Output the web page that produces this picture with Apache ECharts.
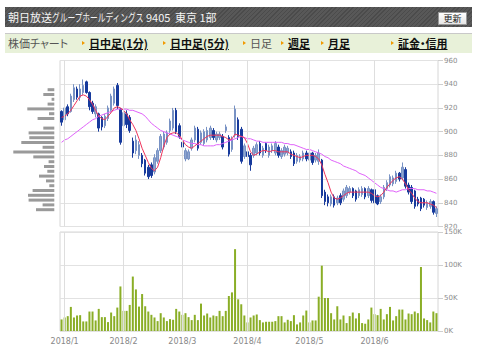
<!DOCTYPE html>
<html><head><meta charset="utf-8">
<script src="https://cdn.jsdelivr.net/npm/echarts@6/dist/echarts.min.js"></script>
<style>
body{margin:0;background:#fff;}
#wrap{position:relative;width:480px;height:364px;overflow:hidden;font-family:"Noto Sans CJK JP",sans-serif;}
#chart{position:absolute;left:0;top:0;width:480px;height:364px;}
#hdr{position:absolute;left:5px;top:7px;width:467px;height:20px;background:repeating-linear-gradient(135deg,#4b4b4b 0,#4b4b4b 1px,#585858 1px,#585858 3px);}
.h{position:absolute;top:0;line-height:20px;font-size:11px;color:#f4f4f4;white-space:nowrap;}
.sq{transform:scaleX(0.7);transform-origin:0 50%;}
#btn{position:absolute;left:433px;top:5px;width:27px;height:11px;background:linear-gradient(#ffffff,#e6e6e6);border:1px solid #999;font-size:9px;line-height:11px;text-align:center;color:#222;}
#tabs{position:absolute;left:5px;top:33px;width:467px;height:19px;background:#e8f1d9;border-top:1px solid #c9c9c9;}
.t{position:absolute;top:0;line-height:19px;font-size:11px;white-space:nowrap;font-feature-settings:"palt";}
.a{color:#111;font-weight:bold;text-decoration:underline;}
.g{color:#555;}
.b{position:absolute;top:7px;width:0;height:0;border-left:3px solid #f29a00;border-top:2.5px solid transparent;border-bottom:2.5px solid transparent;}
</style></head>
<body>
<div id="wrap">
<div id="chart"></div>
<div id="hdr">
 <span class="h" style="left:3px">朝日放送</span>
 <span class="h sq" style="left:47px">グループホールディングス</span>
 <span class="h" style="left:141px">9405</span>
 <span class="h" style="left:170px">東京 1部</span>
 <div id="btn">更新</div>
</div>
<div id="tabs">
 <span class="t g" style="left:3px">株価チャート</span>
 <span class="b" style="left:77px"></span><span class="t a" style="left:84px">日中足(1分)</span>
 <span class="b" style="left:158px"></span><span class="t a" style="left:165px">日中足(5分)</span>
 <span class="b" style="left:238px"></span><span class="t g" style="left:245px">日足</span>
 <span class="b" style="left:276px"></span><span class="t a" style="left:283px">週足</span>
 <span class="b" style="left:316px"></span><span class="t a" style="left:323px">月足</span>
 <span class="b" style="left:386px"></span><span class="t a" style="left:393px">証金・信用</span>
</div>
</div>
<script>
const dates = [
 '2017/12/29',
 '2018/1/4','2018/1/5','2018/1/9','2018/1/10','2018/1/11','2018/1/12','2018/1/15','2018/1/16','2018/1/17','2018/1/18','2018/1/19','2018/1/22','2018/1/23','2018/1/24','2018/1/25','2018/1/26','2018/1/29','2018/1/30','2018/1/31',
 '2018/2/1','2018/2/2','2018/2/5','2018/2/6','2018/2/7','2018/2/8','2018/2/9','2018/2/13','2018/2/14','2018/2/15','2018/2/16','2018/2/19','2018/2/20','2018/2/21','2018/2/22','2018/2/23','2018/2/26','2018/2/27','2018/2/28',
 '2018/3/1','2018/3/2','2018/3/5','2018/3/6','2018/3/7','2018/3/8','2018/3/9','2018/3/12','2018/3/13','2018/3/14','2018/3/15','2018/3/16','2018/3/19','2018/3/20','2018/3/22','2018/3/23','2018/3/26','2018/3/27','2018/3/28','2018/3/29','2018/3/30',
 '2018/4/2','2018/4/3','2018/4/4','2018/4/5','2018/4/6','2018/4/9','2018/4/10','2018/4/11','2018/4/12','2018/4/13','2018/4/16','2018/4/17','2018/4/18','2018/4/19','2018/4/20','2018/4/23','2018/4/24','2018/4/25','2018/4/26','2018/4/27',
 '2018/5/1','2018/5/2','2018/5/7','2018/5/8','2018/5/9','2018/5/10','2018/5/11','2018/5/14','2018/5/15','2018/5/16','2018/5/17','2018/5/18','2018/5/21','2018/5/22','2018/5/23','2018/5/24','2018/5/25','2018/5/28','2018/5/29','2018/5/30','2018/5/31',
 '2018/6/1','2018/6/4','2018/6/5','2018/6/6','2018/6/7','2018/6/8','2018/6/11','2018/6/12','2018/6/13','2018/6/14','2018/6/15','2018/6/18','2018/6/19','2018/6/20','2018/6/21','2018/6/22','2018/6/25','2018/6/26','2018/6/27','2018/6/28','2018/6/29'
];
// [open, close, low, high]
const ohlc = [
 [917,908,905,918],
 [910,920,909,922],[921,915,913,923],[917,930,916,932],[927,937,925,940],[936,929,927,938],[929,936,926,940],[933,939,931,944],[942,933,932,943],[933,921,918,934],[924,917,915,926],
 [915,921,912,923],[915,903,900,916],[912,904,901,913],[905,913,903,915],[911,920,909,922],[918,930,916,932],[924,936,922,938],[939,922,919,941],[919,891,889,920],
 [905,916,903,919],[915,906,903,918],[912,901,899,914],[892,882,878,895],[884,893,881,897],[880,889,877,892],[880,873,870,882],[876,865,863,877],[870,862,860,872],[872,863,861,874],
 [866,878,864,881],[875,884,873,886],[884,896,882,898],[887,898,885,900],[891,899,889,901],[901,909,899,911],[903,918,901,920],[918,900,898,920],[905,896,894,907],
 [891,887,885,893],[877,884,875,886],[877,883,876,885],[886,893,884,895],[893,903,891,905],[902,886,884,904],[891,899,889,901],[890,900,888,902],[893,901,891,904],[895,903,893,905],
 [901,895,893,903],[893,898,891,900],[895,898,893,900],[896,887,885,898],[901,904,899,906],[895,881,879,897],[885,894,883,896],[897,919,895,922],[910,896,893,912],[902,875,873,904],[879,888,877,890],
 [883,879,877,885],[880,872,867,882],[880,886,878,888],[882,889,880,891],[890,882,880,892],[880,886,878,888],[890,884,882,891],[880,887,878,889],[884,888,882,890],[882,890,880,892],
 [887,880,878,889],[879,884,877,886],[881,887,879,889],[882,886,880,888],[883,879,877,885],[882,873,871,884],[875,880,873,882],[876,879,874,881],[877,882,875,884],[882,877,875,884],
 [876,882,874,884],[882,874,872,883],[876,880,874,882],[875,882,872,885],[876,846,844,877],[849,841,838,851],[845,840,837,847],[839,845,837,847],[845,838,836,847],[840,844,838,846],
 [846,840,838,848],[843,850,841,852],[846,853,844,855],[849,852,847,854],[852,846,844,853],[850,843,841,851],[846,851,844,853],[847,852,845,854],[852,845,843,853],[846,852,844,854],[851,842,840,852],
 [851,840,838,852],[846,839,838,847],[841,845,839,847],[845,853,843,855],[852,857,850,859],[855,862,853,864],[856,861,854,863],[858,865,856,867],[865,860,858,866],[861,870,859,874],
 [868,854,852,870],[855,849,847,857],[853,841,839,855],[850,837,835,851],[843,839,837,845],[844,835,833,845],[843,838,836,844],[836,840,834,842],[837,841,835,843],[841,832,830,842],[831,835,828,837]
];
const ma5 = [
 912,913,915,918,922,926,930,931,930,927,923,918,913,911,910,913,916,920,921,920,
 918,915,910,906,901,894,886,880,874,869,867,870,878,888,895,898,899,899,897,
 893,889,887,886,888,890,892,894,896,897,897,897,897,896,895,893,894,898,897,896,895,
 890,883,880,881,883,884,884,883,884,884,883,883,883,883,881,880,879,878,879,880,
 880,880,879,877,872,864,857,849,844,843,844,846,848,849,849,849,849,849,849,849,848,
 846,845,846,849,853,856,859,861,862,860,856,851,848,844,841,840,840,840,839,838,836
];
const ma25 = [
 891,893,894,896,898,900,902,904,906,908,910,911,913,914,915,916,917,918,919,919,
 919,919,918,918,917,916,915,913,910,907,905,903,901,900,899,898,897,896,895,
 893,892,891,890,890,889,889,888,888,888,888,889,889,890,891,892,893,894,895,896,895,
 894,894,893,892,892,891,891,891,891,891,891,891,890,890,889,889,888,887,886,885,
 885,884,883,882,881,879,878,876,875,874,873,871,870,869,868,867,865,864,863,861,859,
 857,855,853,852,851,850,850,849,850,851,851,852,852,852,851,851,851,850,850,849,848
];
const volumeK = [
 17.5,
 20.5,22.5,36.5,20.5,23.5,24,14.5,14.5,29.5,29.5,16,33.5,21,21,13.5,28,22.5,35.5,67.5,
 30.5,30.5,39.5,82.5,63,37,56,37.5,29.5,24.5,20.5,15,27,20.5,15,18,17,33.5,29.5,
 24.5,27,21,16.5,24.5,16.5,41.5,23.5,26.5,20.5,23.5,22.5,30.5,22.5,30.5,53,58.5,124,48,40.5,23.5,
 13,20.5,23.5,25,16.5,13,14,14,14,15,22.5,22.5,13,17,15,24,10,13,23.5,31,
 13,16,16,52,99,50,50,27,17.5,37.5,17.5,23.5,12,22.5,28,19,27,12,11,17.5,35.5,
 25.5,24,33.5,17.5,25.5,36.5,16,22.5,32.5,32.5,17.5,26.5,25.5,29.5,27,97,19,16.5,13,29.5,27
];
const profileBins = ['936','932','928','924','920','916','912','908','904','900','896','892','888','884','880','876','872','868','864','860','856','852','848','844','840','836'];
const profileVol = [6.7,11,2.7,6.7,27,5.3,16.7,0,11,25.7,25,33,11.7,41,21,5.7,10.3,7,15.3,8.3,5,21.7,26.3,25.7,11.7,18.3];

const monthStart = dates.map((d,i)=> i>0 && d.split('/')[1] !== dates[i-1].split('/')[1]);
const monthIdx = monthStart.map((f,i)=> f ? i : -1).filter(i=> i>=0);
const gridMark = {silent:true, symbol:'none', label:{show:false}, lineStyle:{color:'#dedede', width:1, type:'solid'}, data: monthIdx.map(i=>({xAxis:i}))};
const blanks = dates.map(()=>null);
const axisFont = 'DejaVu Sans';

const chart = echarts.init(document.getElementById('chart'), null, {renderer:'svg'});
chart.setOption({
 animation:false,
 grid:[
  {left:60, top:60.5, width:378, height:166, show:true, borderColor:'#d6d6d6', borderWidth:1},
  {left:60, top:232, width:378, height:99, show:true, borderColor:'#d6d6d6', borderWidth:1},
  {left:13, top:87.3, width:41.3, height:124.8}
 ],
 xAxis:[
  {type:'category', gridIndex:0, data:dates, axisLine:{show:false}, axisTick:{show:false}, axisLabel:{show:false}, splitLine:{show:false}},
  {type:'category', gridIndex:1, data:dates, axisLine:{show:false}, axisTick:{show:false}, splitLine:{show:false},
   axisLabel:{show:true, interval:(i)=>monthStart[i], formatter:(v)=>v.split('/').slice(0,2).join('/'), color:'#888', fontSize:8, fontFamily:axisFont, margin:6}},
  {type:'value', gridIndex:2, inverse:true, min:0, max:41.3, show:false}
 ],
 yAxis:[
  {type:'value', gridIndex:0, position:'right', min:820, max:960, interval:20,
   axisLine:{show:false}, axisTick:{show:true, length:5, lineStyle:{color:'#cfcfcf'}},
   axisLabel:{color:'#8c8c8c', fontSize:7, fontFamily:axisFont, margin:6},
   splitLine:{lineStyle:{color:'#e2e2e2'}}},
  {type:'value', gridIndex:1, position:'right', min:0, max:150000, interval:50000,
   axisLine:{show:false}, axisTick:{show:true, length:5, lineStyle:{color:'#cfcfcf'}},
   axisLabel:{color:'#8c8c8c', fontSize:7, fontFamily:axisFont, margin:6, formatter:(v)=>(v/1000)+'K', backgroundColor:'#fff'},
   splitLine:{lineStyle:{color:'#e2e2e2'}}},
  {type:'category', gridIndex:2, data:profileBins, inverse:true, show:false}
 ],
 series:[
  {type:'line', xAxisIndex:0, yAxisIndex:0, data:blanks, z:1, silent:true, markLine:gridMark},
  {type:'line', xAxisIndex:1, yAxisIndex:1, data:blanks, z:1, silent:true, markLine:gridMark},
  {type:'bar', xAxisIndex:1, yAxisIndex:1, data:volumeK.map(v=>v*1000), barWidth:2, itemStyle:{color:'#8aae26'}},
  {type:'candlestick', xAxisIndex:0, yAxisIndex:0, data:ohlc, barWidth:2,
   itemStyle:{color:'#8fa6d0', color0:'#173a9c', borderColor:'#7892c4', borderColor0:'#173a9c', borderWidth:1}},
  {type:'line', xAxisIndex:0, yAxisIndex:0, data:ma25, symbol:'none', lineStyle:{color:'#e062fa', width:1}},
  {type:'line', xAxisIndex:0, yAxisIndex:0, data:ma5, symbol:'none', lineStyle:{color:'#f0345c', width:1}},
  {type:'bar', xAxisIndex:2, yAxisIndex:2, data:profileVol, barWidth:3, itemStyle:{color:'#9a9a9a'}}
 ]
});
</script>
</body></html>
